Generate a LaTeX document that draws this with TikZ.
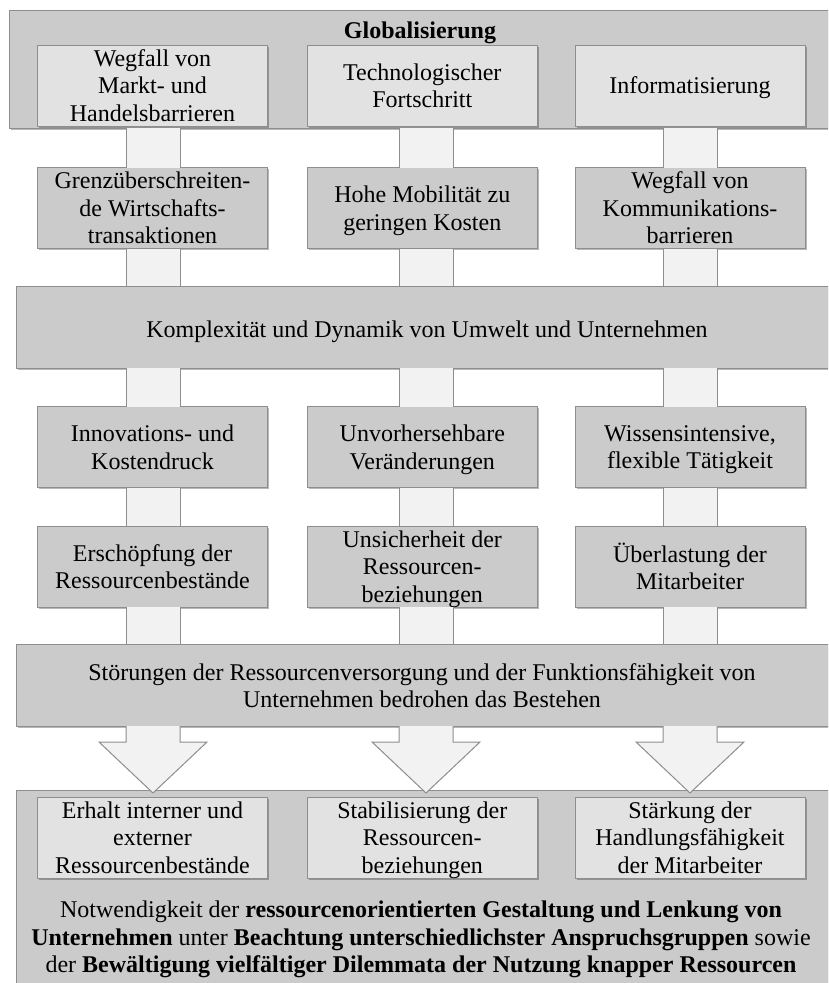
\documentclass[tikz,border=0pt]{standalone}
\usepackage{fontspec}
\setmainfont{Liberation Serif}
\usetikzlibrary{calc,shadows}

\definecolor{boxgray}{HTML}{CBCBCB}
\definecolor{lightbox}{HTML}{E2E2E2}
\definecolor{bandfill}{HTML}{F2F2F2}
\definecolor{edgegray}{HTML}{8E8E8E}

\tikzset{
  boxbase/.style={draw=edgegray, line width=1pt, outer sep=0pt, inner sep=0pt,
    align=center, font=\fontsize{24}{27.5}\selectfont, text depth=0pt},
  softshadow/.style={drop shadow={shadow xshift=1.5pt, shadow yshift=-1.5pt,
    opacity=0.28, fill=black}},
  outerbox/.style={boxbase, softshadow, fill=boxgray, anchor=north west},
  lightcell/.style={boxbase, softshadow, fill=lightbox,
    minimum width=230pt, minimum height=81pt},
  graycell/.style={boxbase, softshadow, fill=boxgray,
    minimum width=230pt, minimum height=81pt},
  bandline/.style={draw=edgegray, line width=1pt},
  flowarrow/.style={fill=bandfill, draw=edgegray, line width=1pt, line join=miter},
}

% vertical band between two stacked boxes in column #1
\newcommand\bandlink[3]{%
  \fill[bandfill] ($(#1 |- #2.south)+(-27,0)$) rectangle ($(#1 |- #3.north)+(27,0)$);
  \draw[bandline] ($(#1 |- #2.south)+(-27,0)$) -- ($(#1 |- #3.north)+(-27,0)$);
  \draw[bandline] ($(#1 |- #2.south)+(27,0)$) -- ($(#1 |- #3.north)+(27,0)$);
}

% block arrow from #2 down to #3 in column #1
\newcommand\blockarrow[3]{%
  \coordinate (ta) at (#1 |- #2.south);
  \coordinate (tb) at ($(#1 |- #3.north)+(0,3)$);
  \fill[bandfill] ($(ta)+(-27,0)$) -- ($(ta)+(-27,16)$) -- ($(ta)+(-54,16)$)
     -- (tb) -- ($(ta)+(54,16)$) -- ($(ta)+(27,16)$) -- ($(ta)+(27,0)$) -- cycle;
  \draw[flowarrow] ($(ta)+(-27,0)$) -- ($(ta)+(-27,16)$) -- ($(ta)+(-54,16)$)
     -- (tb) -- ($(ta)+(54,16)$) -- ($(ta)+(27,16)$) -- ($(ta)+(27,0)$);
}

\begin{document}
\begin{tikzpicture}[x=1pt, y=-1pt]
  \useasboundingbox (0,0) rectangle (828,983);
  \clip (0,0) rectangle (828,983);
  \fill[white] (0,0) rectangle (828,983);

  % column axes
  \coordinate (colA) at (153,0);
  \coordinate (colB) at (426,0);
  \coordinate (colC) at (690,0);

  % wide boxes
  \node[outerbox, minimum width=840pt, minimum height=118pt] (glob) at (9,10) {};
  \node[anchor=base, font=\fontsize{24}{27.5}\selectfont\bfseries] (globtitle) at (420,38) {Globalisierung};
  \node[outerbox, minimum width=840pt, minimum height=82pt] (kompl) at (16,286) {};
  \node[outerbox, minimum width=840pt, minimum height=82pt] (stoer) at (16,644) {};
  \node[outerbox, minimum width=840pt, minimum height=230pt] (notw) at (16,790) {};

  % row 1 (inside Globalisierung)
  \node[lightcell] (ga) at (152.5,85.5) {Wegfall von\\Markt- und\\Handelsbarrieren};
  \node[lightcell] (gb) at (422.3,85.5) {Technologischer\\Fortschritt};
  \node[lightcell] (gc) at (690,85.5) {Informatisierung};

  % row 2
  \node[graycell] (ta2) at (152.5,208) {Grenzüberschreiten-\\de Wirtschafts-\\transaktionen};
  \node[graycell] (tb2) at (422.3,208) {Hohe Mobilität zu\\geringen Kosten};
  \node[graycell] (tc2) at (690,208) {Wegfall von\\Kommunikations-\\barrieren};

  % row 3
  \node[graycell] (ia) at (152.5,447) {Innovations- und\\Kostendruck};
  \node[graycell] (ib) at (422.3,447) {Unvorhersehbare\\Veränderungen};
  \node[graycell] (ic) at (690,447) {Wissensintensive,\\flexible Tätigkeit};

  % row 4
  \node[graycell] (ea) at (152.5,566.5) {Erschöpfung der\\Ressourcenbestände};
  \node[graycell] (eb) at (422.3,566.5) {Unsicherheit der\\Ressourcen-\\beziehungen};
  \node[graycell] (ec) at (690,566.5) {Überlastung der\\Mitarbeiter};

  % texts of the wide boxes
  \node[font=\fontsize{24}{27.5}\selectfont, text depth=0pt] (kompltext) at (427,329)
    {Komplexität und Dynamik von Umwelt und Unternehmen};
  \node[font=\fontsize{24}{27.5}\selectfont, text depth=0pt, align=center] (stoertext) at (422,685.5)
    {Störungen der Ressourcenversorgung und der Funktionsfähigkeit von\\Unternehmen bedrohen das Bestehen};

  % bottom row (inside the last box)
  \node[lightcell] (sa) at (152.5,837.5) {Erhalt interner und\\externer\\Ressourcenbestände};
  \node[lightcell] (sb) at (422.3,837.5) {Stabilisierung der\\Ressourcen-\\beziehungen};
  \node[lightcell] (sc) at (690,837.5) {Stärkung der\\Handlungsfähigkeit\\der Mitarbeiter};

  \node[font=\fontsize{24}{27.5}\selectfont, text depth=0pt, align=center] (notwtext) at (421,937)
    {Notwendigkeit der \textbf{ressourcenorientierten Gestaltung und Lenkung von}\\
     \textbf{Unternehmen} unter \textbf{Beachtung unterschiedlichster Anspruchsgruppen} sowie\\
     der \textbf{Bewältigung vielfältiger Dilemmata der Nutzung knapper Ressourcen}};

  % bands between the levels
  \foreach \c/\a/\b/\d/\e/\f in {colA/ta2/ia/ea/ga/ea, colB/tb2/ib/eb/gb/eb, colC/tc2/ic/ec/gc/ec}{
    \bandlink{\c}{glob}{\a}
    \bandlink{\c}{\a}{kompl}
    \bandlink{\c}{kompl}{\b}
    \bandlink{\c}{\b}{\d}
    \bandlink{\c}{\d}{stoer}
  }

  % block arrows into the last box
  \blockarrow{colA}{stoer}{notw}
  \blockarrow{colB}{stoer}{notw}
  \blockarrow{colC}{stoer}{notw}
\end{tikzpicture}
\end{document}
